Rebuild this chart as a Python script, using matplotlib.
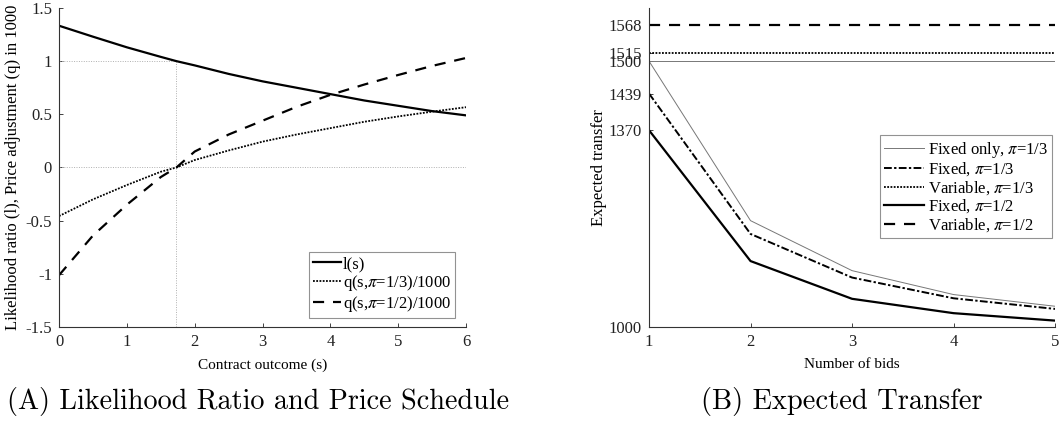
import matplotlib
matplotlib.use("Agg")
import matplotlib.pyplot as plt

# ---- Data (panel A) ----
s_vals = [0, 0.5, 1, 1.5, 1.73, 2, 2.5, 3, 3.5, 4, 4.5, 5, 5.5, 6]
l_vals = [1.333, 1.23, 1.13, 1.04, 1.00, 0.96, 0.88, 0.81, 0.75, 0.69, 0.63, 0.58, 0.53, 0.49]
q13_vals = [-0.457, -0.30, -0.165, -0.04, 0.0, 0.07, 0.16, 0.243, 0.31, 0.37, 0.43, 0.48, 0.525, 0.567]
q12_vals = [-1.013, -0.64, -0.35, -0.09, 0.0, 0.15, 0.31, 0.44, 0.57, 0.683, 0.78, 0.87, 0.955, 1.03]
s_star = 1.73

# ---- Data (panel B) ----
bids = [1, 2, 3, 4, 5]
fixed_only_13 = [1500, 1200, 1106, 1061, 1039]
fixed_13 = [1439, 1175, 1093, 1054, 1034]
fixed_12 = [1370, 1124, 1053, 1026, 1012]
variable_13 = 1515
variable_12 = 1568
b_yticks = [1000, 1370, 1439, 1500, 1515, 1568]

plt.rcParams['font.family'] = ['Liberation Serif', 'DejaVu Serif']
plt.rcParams['mathtext.fontset'] = 'stix'
plt.rcParams['axes.unicode_minus'] = False

fig = plt.figure(figsize=(10.6, 4.24), dpi=100)
axA = fig.add_axes([0.0557, 0.2288, 0.384, 0.7524])
axB = fig.add_axes([0.6123, 0.2288, 0.383, 0.7524])

for ax in (axA, axB):
    for sp in ('top', 'right'):
        ax.spines[sp].set_visible(False)
    for sp in ('left', 'bottom'):
        ax.spines[sp].set_linewidth(0.8)
        ax.spines[sp].set_color('#333333')
    ax.tick_params(direction='in', length=3, width=0.6, labelsize=12, pad=5, colors='#222222')

# Panel A
grey = '#b0b0b0'
axA.plot([0, s_star], [1, 1], color=grey, lw=0.7, ls=(0, (1, 1.5)))
axA.plot([0, 6], [0, 0], color=grey, lw=0.7, ls=(0, (1, 1.5)))
axA.plot([s_star, s_star], [-1.5, 1], color=grey, lw=0.7, ls=(0, (1, 1.5)))
axA.plot(s_vals, l_vals, color='black', lw=1.6, label='l(s)')
axA.plot(s_vals, q13_vals, color='black', lw=1.3, ls=(0, (1, 0.8)), label=r'q(s,$\pi$=1/3)/1000')
axA.plot(s_vals, q12_vals, color='black', lw=1.6, ls=(0, (5, 4)), label=r'q(s,$\pi$=1/2)/1000')
axA.set_xlim(0, 6)
axA.set_ylim(-1.5, 1.5)
axA.set_xticks(range(7))
axA.set_yticks([-1.5, -1, -0.5, 0, 0.5, 1, 1.5])
axA.set_yticklabels(['-1.5', '-1', '-0.5', '0', '0.5', '1', '1.5'])
axA.set_xlabel('Contract outcome (s)', fontsize=11, labelpad=6)
axA.set_ylabel('Likelihood ratio (l), Price adjustment (q) in 1000', fontsize=12, labelpad=3)
legA = axA.legend(loc='lower right', bbox_to_anchor=(0.973, 0.028), fontsize=12,
                  frameon=True, fancybox=False, edgecolor='#777777', handlelength=1.7,
                  handletextpad=0.1, labelspacing=0.05, borderpad=0.25, borderaxespad=0)
legA.get_frame().set_linewidth(0.8)

# Panel B
axB.axhline(1500, color='#777777', lw=0.7)
axB.plot(bids, fixed_only_13, color='#777777', lw=0.7, label=r'Fixed only, $\pi$=1/3')
axB.plot(bids, fixed_13, color='black', lw=1.4, ls=(0, (4, 1.2, 1.2, 1.2)), label=r'Fixed, $\pi$=1/3')
axB.axhline(variable_13, color='black', lw=1.3, ls=(0, (1, 0.8)), label=r'Variable, $\pi$=1/3')
axB.plot(bids, fixed_12, color='black', lw=1.6, label=r'Fixed, $\pi$=1/2')
axB.axhline(variable_12, color='black', lw=1.6, ls=(0, (5, 4)), label=r'Variable, $\pi$=1/2')
axB.set_xlim(1, 5)
axB.set_ylim(1000, 1600)
axB.set_xticks(bids)
axB.set_yticks(b_yticks)
axB.set_xlabel('Number of bids', fontsize=11, labelpad=6)
axB.set_ylabel('Expected transfer', fontsize=12, labelpad=1)
legB = axB.legend(loc='lower right', bbox_to_anchor=(0.993, 0.279), fontsize=12,
                  frameon=True, fancybox=False, edgecolor='#777777', handlelength=2.4,
                  handletextpad=0.2, labelspacing=0.05, borderpad=0.25, borderaxespad=0)
legB.get_frame().set_linewidth(0.8)

fig.text(258 / 1060, 1 - 402 / 424, '(A) Likelihood Ratio and Price Schedule', fontsize=20.3,
         family='cmr10', ha='center', va='center')
fig.text(842 / 1060, 1 - 402 / 424, '(B) Expected Transfer', fontsize=20.5,
         family='cmr10', ha='center', va='center')

fig.savefig('out.png', dpi=100)
